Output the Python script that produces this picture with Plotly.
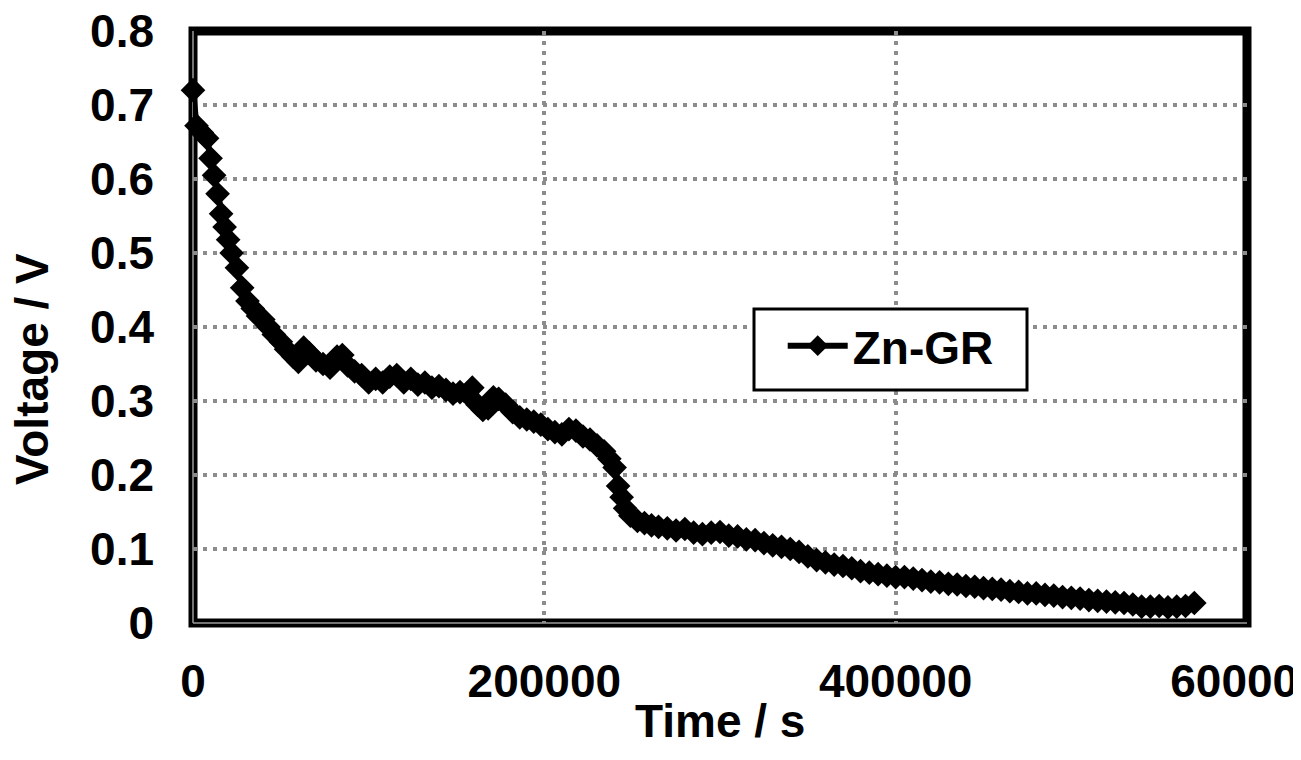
import plotly.graph_objects as go

# ---- data ----
time_s = [0, 2000, 5000, 8000, 10000, 12000, 14000, 16000, 18000, 20000, 22000, 25000, 28000,
          31000, 34000, 37000, 40000, 43000, 46000, 50000, 53000, 57000, 60000, 63000, 66000,
          70000, 74000, 78000, 82000, 85000, 88000, 92000, 96000, 100000, 104000, 108000,
          112000, 116000, 120000, 124000, 128000, 132000, 136000, 140000, 144000, 148000,
          152000, 156000, 159000, 162000, 165000, 168000, 171000, 174000, 178000, 182000,
          186000, 190000, 194000, 198000, 202000, 206000, 210000, 214000, 218000, 222000,
          226000, 230000, 234000, 237000, 240000, 242000, 244000, 246000, 249000, 253000,
          257000, 261000, 265000, 270000, 275000, 280000, 285000, 290000, 295000, 300000,
          305000, 310000, 315000, 320000, 325000, 330000, 335000, 340000, 345000, 350000,
          355000, 360000, 365000, 370000, 375000, 380000, 385000, 390000, 395000, 400000,
          405000, 410000, 415000, 420000, 425000, 430000, 435000, 440000, 445000, 450000,
          455000, 460000, 465000, 470000, 475000, 480000, 485000, 490000, 495000, 500000,
          505000, 510000, 515000, 520000, 525000, 530000, 535000, 540000, 545000, 550000,
          555000, 560000, 565000, 570000]
voltage_v = [0.72, 0.672, 0.663, 0.655, 0.628, 0.605, 0.58, 0.553, 0.535, 0.518, 0.5, 0.48, 0.453,
             0.435, 0.425, 0.415, 0.41, 0.4, 0.39, 0.38, 0.37, 0.36, 0.353, 0.372, 0.365,
             0.355, 0.35, 0.345, 0.36, 0.362, 0.348, 0.34, 0.335, 0.325, 0.33, 0.325,
             0.333, 0.335, 0.325, 0.33, 0.322, 0.325, 0.318, 0.32, 0.315, 0.31,
             0.312, 0.31, 0.318, 0.295, 0.288, 0.29, 0.305, 0.303, 0.295, 0.285,
             0.278, 0.275, 0.272, 0.268, 0.262, 0.258, 0.255, 0.262, 0.26, 0.252,
             0.248, 0.24, 0.232, 0.222, 0.21, 0.185, 0.17, 0.155, 0.145, 0.138,
             0.135, 0.132, 0.13, 0.128, 0.125, 0.127, 0.122, 0.12, 0.122, 0.123,
             0.118, 0.117, 0.113, 0.112, 0.108, 0.105, 0.103, 0.1, 0.096, 0.09,
             0.085, 0.082, 0.079, 0.077, 0.074, 0.07, 0.068, 0.066, 0.064, 0.062,
             0.062, 0.06, 0.058, 0.056, 0.055, 0.053, 0.052, 0.05, 0.049, 0.047,
             0.046, 0.045, 0.043, 0.042, 0.04, 0.04, 0.038, 0.037, 0.035, 0.034,
             0.033, 0.031, 0.03, 0.029, 0.028, 0.027, 0.025, 0.022, 0.022, 0.023,
             0.021, 0.022, 0.023, 0.027]
series_name = "Zn-GR"
x_ticks = [0, 200000, 400000, 600000]
y_ticks = [0, 0.1, 0.2, 0.3, 0.4, 0.5, 0.6, 0.7, 0.8]
x_title = "Time / s"
y_title = "Voltage / V"

FONT = "Liberation Sans, Arial, sans-serif"
BOLD46 = dict(family=FONT, size=46, color="black", weight="bold")

fig = go.Figure()
fig.add_trace(go.Scatter(
    x=time_s, y=voltage_v, name=series_name, mode="lines+markers",
    line=dict(color="black", width=6),
    marker=dict(symbol="diamond", size=19, color="black"),
    cliponaxis=False,
))

grid = dict(showgrid=True, gridcolor="#8c8c8c", gridwidth=4, griddash="4px,6px",
            zeroline=False, showline=False, ticks="", ticklabeloverflow="allow",
            tickfont=BOLD46)

fig.update_layout(
    width=1301, height=760,
    margin=dict(l=185, r=62, t=23, b=145, autoexpand=False),
    paper_bgcolor="white", plot_bgcolor="white",
    font=BOLD46,
    xaxis=dict(range=[0, 600000], tickvals=x_ticks, tickformat="d",
               ticklabelstandoff=27, automargin=False, **grid),
    yaxis=dict(range=[0, 0.8], tickvals=y_ticks, ticklabelstandoff=38,
               automargin=False, **grid),
    showlegend=True,
    legend=dict(x=0.5595, y=0.53, xanchor="left", yanchor="top",
                bgcolor="rgba(0,0,0,0)", borderwidth=0, itemwidth=60,
                font=BOLD46),
)

# plot-area frame and thin grey axis lines
fig.add_shape(type="rect", xref="paper", yref="paper", x0=0, x1=1, y0=0, y1=1,
              line=dict(color="black", width=9), layer="between")
fig.add_shape(type="line", xref="paper", yref="paper", x0=0, x1=0, y0=0, y1=1,
              line=dict(color="#9a9a9a", width=1.5), layer="between")
fig.add_shape(type="line", xref="paper", yref="paper", x0=0, x1=1, y0=0, y1=0,
              line=dict(color="#9a9a9a", width=1.5), layer="between")
# legend box
fig.add_shape(type="rect", xref="paper", yref="paper",
              x0=(754 - 193) / 1054, x1=(1027 - 193) / 1054,
              y0=(623 - 390) / 592, y1=(623 - 309) / 592,
              line=dict(color="black", width=3), fillcolor="white", layer="above")

# axis titles
fig.add_annotation(text=x_title, xref="paper", yref="paper", x=0.5, y=0,
                   xanchor="center", yanchor="middle", yshift=-98, showarrow=False,
                   font=BOLD46)
fig.add_annotation(text=y_title, xref="paper", yref="paper", x=0, y=0.5,
                   xanchor="center", yanchor="middle", xshift=-161, yshift=-42,
                   textangle=-90, showarrow=False, font=BOLD46)

fig.write_html("out.html")
